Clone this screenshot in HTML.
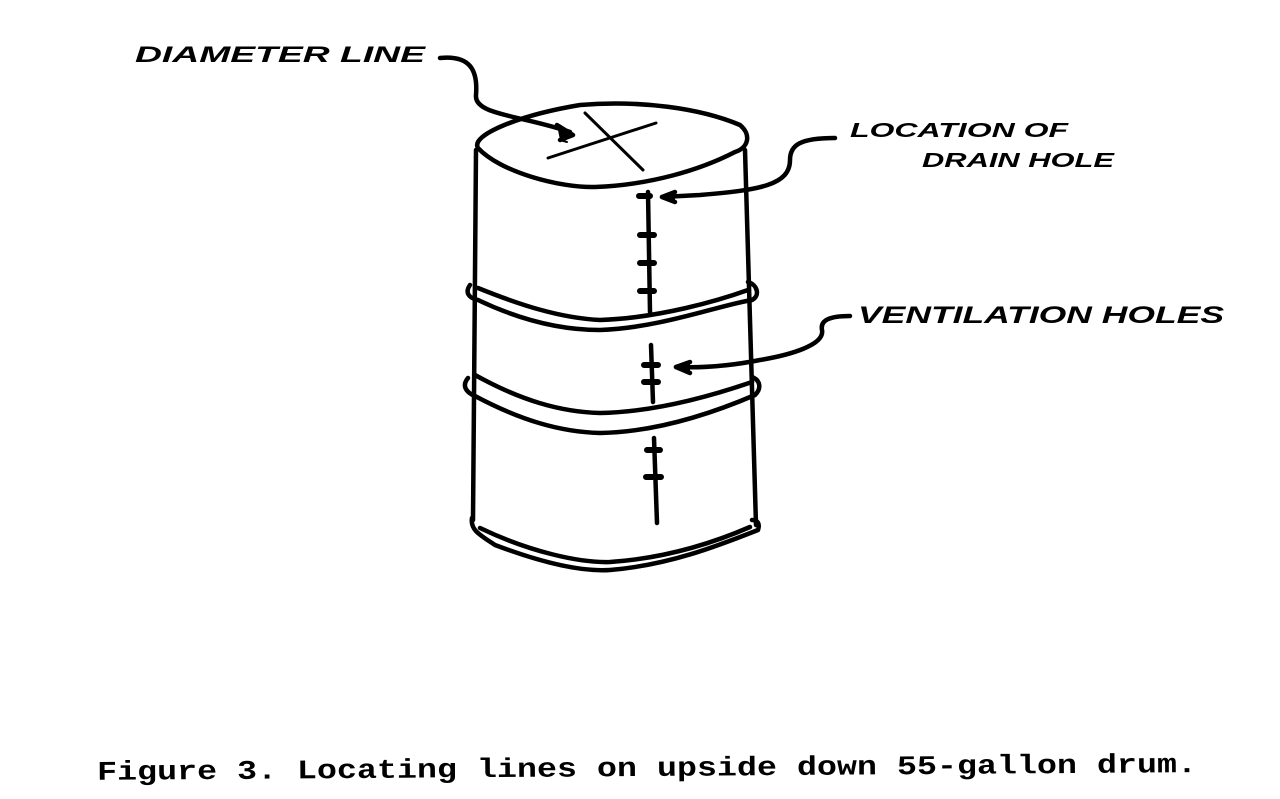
<!DOCTYPE html>
<html><head><style>body{margin:0;background:#fff}svg{display:block}</style></head><body>
<svg width="1280" height="799" viewBox="0 0 1280 799" xmlns="http://www.w3.org/2000/svg">
<g fill="none" stroke="#000" stroke-width="4.5" stroke-linecap="round" stroke-linejoin="round">
<path d="M478,148 C470,135 520,115 580,105 C640,100 700,108 740,125 C752,135 748,148 735,152 C700,170 650,185 595,187 C560,188 500,172 478,148 Z"/>
<path d="M476,150 L473,520"/>
<path d="M745,150 L756,525"/>
<path d="M470,285 C465,292 468,298 478,300 C520,320 560,330 600,330 C660,328 720,305 752,300 C760,296 758,285 748,282"/>
<path d="M478,288 C520,305 560,318 600,320 C660,318 720,300 748,290"/>
<path d="M468,378 C462,385 465,392 475,396 C520,420 560,432 600,433 C660,432 720,410 755,395 C762,388 760,380 752,377"/>
<path d="M475,375 C520,400 560,412 600,413 C660,412 720,393 752,382"/>
<path d="M472,518 C470,530 480,535 495,545 C540,562 580,572 610,570 C670,565 720,545 758,530 C760,524 758,520 752,520"/>
<path d="M480,528 C530,552 580,563 610,562 C670,558 720,540 750,527"/>
<path d="M548,158 L656,123" stroke-width="3"/>
<path d="M585,113 L643,170" stroke-width="3"/>
<path d="M560,140 L567,142" stroke-width="2"/>
<path d="M648,192 L650,312"/>
<path d="M639,196 L650,196 M640,235 L654,235 M640,263 L654,263 M640,291 L654,291" stroke-width="6"/>
<path d="M651,345 L653,402"/>
<path d="M644,365 L658,365 M644,382 L658,382" stroke-width="6"/>
<path d="M654,438 L657,523"/>
<path d="M647,450 L660,450 M646,477 L661,477" stroke-width="6"/>
<path d="M440,58 C470,55 478,70 476,95 C474,115 520,115 570,132"/>
<path d="M557,125 L573,135 L560,140" fill="#000"/>
<path d="M835,138 C800,138 790,145 790,160 C790,185 760,190 700,195 L662,197"/>
<path d="M675,192 L662,197 L675,202" fill="#000"/>
<path d="M850,316 C830,316 820,320 822,330 C825,345 790,355 760,360 C730,366 700,368 676,367"/>
<path d="M690,362 L676,367 L690,373" fill="#000"/>
</g>
<g font-family="Liberation Sans, sans-serif" font-weight="bold" font-style="italic" fill="#000">
<text x="135" y="62" font-size="22" textLength="290" lengthAdjust="spacingAndGlyphs">DIAMETER LINE</text>
<text x="850" y="137" font-size="20" textLength="218" lengthAdjust="spacingAndGlyphs">LOCATION OF</text>
<text x="922" y="167" font-size="20" textLength="192" lengthAdjust="spacingAndGlyphs">DRAIN HOLE</text>
<text x="858" y="323" font-size="24" textLength="366" lengthAdjust="spacingAndGlyphs">VENTILATION HOLES</text>
</g>
<text x="97" y="776" font-family="Liberation Mono, monospace" font-weight="bold" font-size="27" textLength="1100" lengthAdjust="spacingAndGlyphs" fill="#000" transform="rotate(-0.4 640 768)">Figure 3. Locating lines on upside down 55-gallon drum.</text>
</svg>
</body></html>
